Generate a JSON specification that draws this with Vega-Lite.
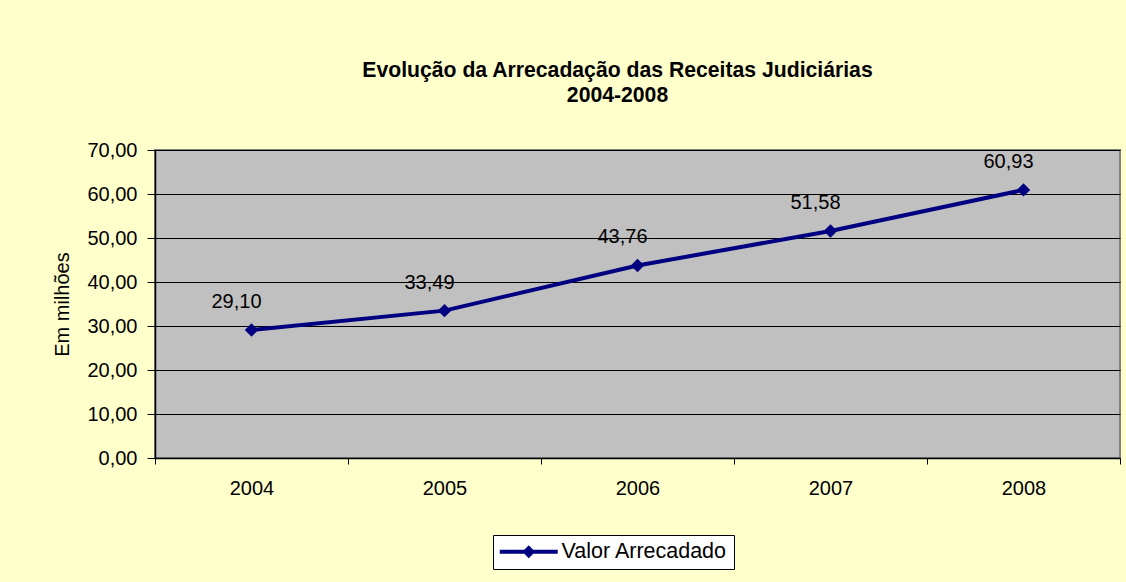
{
  "$schema": "https://vega.github.io/schema/vega-lite/v6.json",
  "width": 965,
  "height": 308,
  "autosize": "none",
  "padding": {"left": 155, "top": 150, "right": 6, "bottom": 124},
  "background": "#FFFFCC",
  "config": {
    "locale": {"number": {"decimal": ",", "thousands": ".", "grouping": [3], "currency": ["R$ ", ""]}},
    "view": {"fill": "#C0C0C0", "stroke": "#808080", "strokeWidth": 2},
    "font": "Liberation Sans"
  },
  "title": {
    "text": ["Evolução da Arrecadação das Receitas Judiciárias", "2004-2008"],
    "fontSize": 21.2,
    "fontWeight": "bold",
    "color": "black",
    "anchor": "middle",
    "dx": -20,
    "offset": 34,
    "lineHeight": 25
  },
  "data": {
    "values": [
      {"ano": "2004", "valor": 29.10},
      {"ano": "2005", "valor": 33.49},
      {"ano": "2006", "valor": 43.76},
      {"ano": "2007", "valor": 51.58},
      {"ano": "2008", "valor": 60.93}
    ]
  },
  "encoding": {
    "x": {
      "field": "ano",
      "type": "ordinal",
      "scale": {"type": "band", "paddingInner": 0, "paddingOuter": 0},
      "axis": {
        "title": null,
        "tickBand": "extent",
        "labelAngle": 0,
        "tickColor": "black",
        "tickSize": 6,
        "domainColor": "black",
        "domainWidth": 1.5,
        "grid": false,
        "labelFontSize": 20,
        "labelColor": "black",
        "labelPadding": 14
      }
    },
    "y": {
      "field": "valor",
      "type": "quantitative",
      "scale": {"domain": [0, 70], "nice": false},
      "axis": {
        "title": "Em milhões",
        "format": ".2f",
        "values": [0, 10, 20, 30, 40, 50, 60, 70],
        "grid": true,
        "gridColor": "black",
        "gridOpacity": 1,
        "domainColor": "black",
        "domainWidth": 1.5,
        "tickColor": "black",
        "tickSize": 8,
        "labelFontSize": 20,
        "labelColor": "black",
        "labelPadding": 10,
        "titleFontSize": 20,
        "titleFontWeight": "normal",
        "titleColor": "black",
        "titlePadding": 14
      }
    }
  },
  "layer": [
    {
      "mark": {"type": "line", "strokeWidth": 4},
      "encoding": {
        "color": {
          "datum": "Valor Arrecadado",
          "scale": {"range": ["#000080"]},
          "legend": {
            "title": null,
            "orient": "none",
            "legendX": 338,
            "legendY": 385,
            "fillColor": "white",
            "strokeColor": "black",
            "padding": 6,
            "symbolType": "M-1,-0.2 H4.8 V0.2 H-1 Z M1.9,-0.65 L2.55,0 L1.9,0.65 L1.25,0 Z",
            "symbolSize": 400,
            "symbolStrokeWidth": 0,
            "labelFontSize": 21.5,
            "labelLimit": 400,
            "labelColor": "black",
            "labelOffset": 41,
            "encode": {"symbols": {"update": {"fill": {"value": "#000080"}, "stroke": {"value": "#000080"}, "strokeWidth": {"value": 0}}}}
          }
        }
      }
    },
    {
      "mark": {"type": "point", "shape": "diamond", "size": 180, "filled": true, "opacity": 1},
      "encoding": {
        "color": {"datum": "Valor Arrecadado"}
      }
    },
    {
      "mark": {"type": "text", "dx": -15, "dy": -28, "fontSize": 20, "color": "black"},
      "encoding": {
        "text": {"field": "valor", "type": "quantitative", "format": ".2f"}
      }
    }
  ]
}
